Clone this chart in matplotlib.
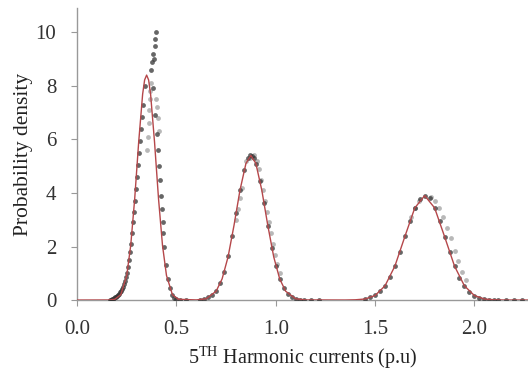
import matplotlib
matplotlib.use('Agg')

import matplotlib.pyplot as plt

plt.rcParams['font.family'] = ['Liberation Serif', 'DejaVu Serif']
plt.rcParams['mathtext.fontset'] = 'custom'
plt.rcParams['mathtext.rm'] = 'Liberation Serif'

# fitted density curve (red)
fit_x = [0.0, 0.16, 0.19, 0.22, 0.25, 0.27, 0.29, 0.31, 0.33, 0.34, 0.35, 0.36, 0.37,
         0.39, 0.41, 0.43, 0.45, 0.48, 0.51,
         0.60, 0.65, 0.70, 0.73, 0.76, 0.79, 0.82, 0.85, 0.875, 0.90, 0.93, 0.96,
         0.99, 1.02, 1.05, 1.10, 1.15,
         1.35, 1.40, 1.45, 1.50, 1.55, 1.60, 1.65, 1.70, 1.75, 1.80, 1.85, 1.90,
         1.95, 2.00, 2.05, 2.10, 2.15, 2.27]
fit_y = [0.0, 0.003, 0.03, 0.20, 0.92, 2.04, 3.78, 5.89, 7.69, 8.22, 8.4, 8.22, 7.69,
         5.89, 3.78, 2.04, 0.92, 0.20, 0.03,
         0.005, 0.05, 0.33, 0.79, 1.61, 2.79, 4.10, 5.10, 5.4, 5.10, 4.10, 2.79,
         1.61, 0.79, 0.33, 0.05, 0.005,
         0.001, 0.01, 0.04, 0.17, 0.53, 1.27, 2.37, 3.44, 3.9, 3.44, 2.37, 1.27,
         0.53, 0.17, 0.04, 0.01, 0.001, 0.0]

# measured points (dark)
dark_x = [0.165, 0.17, 0.175, 0.18, 0.185, 0.19, 0.195, 0.20, 0.205, 0.21, 0.215, 0.22,
          0.225, 0.23, 0.235, 0.24, 0.245, 0.25, 0.255, 0.26, 0.265, 0.27, 0.275, 0.28,
          0.285, 0.29, 0.295, 0.30, 0.305, 0.31, 0.315, 0.32, 0.325, 0.33, 0.34,
          0.37, 0.375, 0.38, 0.385, 0.39, 0.39, 0.395,
          0.38, 0.39, 0.40, 0.405, 0.41, 0.415, 0.42, 0.425, 0.43, 0.435, 0.44,
          0.45, 0.46, 0.47, 0.48, 0.49, 0.50, 0.52, 0.55,
          0.62, 0.64, 0.66, 0.68, 0.70, 0.72, 0.74, 0.76, 0.78, 0.80, 0.82, 0.84,
          0.86, 0.87, 0.88, 0.89, 0.90, 0.92, 0.94, 0.96, 0.98, 1.00, 1.02, 1.04,
          1.06, 1.08, 1.10, 1.12, 1.14, 1.18, 1.22,
          1.45, 1.475, 1.50, 1.525, 1.55, 1.575, 1.60, 1.625, 1.65, 1.675, 1.70,
          1.725, 1.75, 1.775, 1.80, 1.825, 1.85, 1.875, 1.90, 1.925, 1.95, 1.975,
          2.00, 2.025, 2.05, 2.075, 2.10, 2.12, 2.16, 2.20, 2.24]
dark_y = [0.01, 0.02, 0.03, 0.05, 0.07, 0.10, 0.12, 0.15, 0.19, 0.24, 0.29, 0.35,
          0.42, 0.50, 0.60, 0.70, 0.85, 1.0, 1.25, 1.5, 1.8, 2.1, 2.5, 2.9,
          3.3, 3.7, 4.15, 4.6, 5.05, 5.5, 5.95, 6.4, 6.85, 7.3, 8.0,
          8.6, 8.9, 9.2, 9.0, 9.5, 9.75, 10.0,
          7.9, 6.9, 6.2, 5.6, 5.0, 4.5, 3.9, 3.4, 2.9, 2.5, 2.0,
          1.3, 0.8, 0.45, 0.2, 0.08, 0.03, 0.01, 0.0,
          0.02, 0.05, 0.10, 0.19, 0.35, 0.62, 1.05, 1.63, 2.40, 3.25, 4.10, 4.85,
          5.30, 5.40, 5.38, 5.30, 5.08, 4.45, 3.62, 2.75, 1.93, 1.26, 0.78, 0.44,
          0.23, 0.12, 0.05, 0.02, 0.01, 0.0, 0.0,
          0.05, 0.10, 0.18, 0.32, 0.54, 0.86, 1.28, 1.81, 2.38, 2.95, 3.45,
          3.78, 3.90, 3.80, 3.45, 2.95, 2.37, 1.79, 1.27, 0.84, 0.53, 0.31,
          0.17, 0.09, 0.043, 0.02, 0.009, 0.004, 0.0, 0.0, 0.0]

# measured points (light grey)
light_x = [0.35, 0.355, 0.36, 0.36, 0.365, 0.365, 0.37, 0.395, 0.40, 0.405, 0.41,
           0.80, 0.81, 0.82, 0.83, 0.85, 0.87, 0.89, 0.905, 0.915, 0.925, 0.935,
           0.945, 0.955, 0.965, 0.975, 0.985, 0.995, 1.005, 1.02,
           1.68, 1.70, 1.72, 1.78, 1.80, 1.82, 1.84, 1.86, 1.88, 1.90, 1.92,
           1.94, 1.96]
light_y = [5.6, 6.1, 6.6, 7.1, 7.5, 7.8, 8.1, 7.5, 7.2, 6.8, 6.3,
           3.0, 3.4, 3.8, 4.2, 5.2, 5.3, 5.4, 5.2, 4.9, 4.5, 4.1,
           3.7, 3.3, 2.9, 2.5, 2.1, 1.7, 1.35, 1.0,
           3.1, 3.45, 3.7, 3.85, 3.7, 3.45, 3.1, 2.7, 2.3, 1.85, 1.45,
           1.05, 0.75]

fig = plt.figure(figsize=(5.28, 3.70), dpi=100)
ax = fig.add_axes([0.146, 0.189, 0.854, 0.789])

ax.scatter(light_x, light_y, s=12, color='#9a9a9a', alpha=0.7, linewidths=0, zorder=2)
ax.scatter(dark_x, dark_y, s=12, color='#333333', alpha=0.75, linewidths=0, zorder=3)
ax.plot(fit_x, fit_y, color='#b5474a', lw=1.0, zorder=4)

ax.set_xlim(0, 2.27)
ax.set_ylim(0, 10.9)
ax.set_xticks([0.0, 0.5, 1.0, 1.5, 2.0])
ax.set_xticklabels(['0.0', '0.5', '1.0', '1.5', '2.0'])
ax.set_yticks([0, 2, 4, 6, 8, 10])

for side in ['top', 'right']:
    ax.spines[side].set_visible(False)
for side in ['left', 'bottom']:
    ax.spines[side].set_color('#999999')
    ax.spines[side].set_linewidth(1.0)

ax.tick_params(axis='both', colors='#999999', labelcolor='#333333', labelsize=15,
               length=4, direction='out')
ax.tick_params(axis='x', pad=10)
ax.tick_params(axis='y', pad=11)

ax.set_xlabel(r'5$^{\mathrm{TH}}$ Harmonic currents (p.u)', fontsize=14.5,
              color='#222222', labelpad=4)
ax.set_ylabel('Probability density', fontsize=15.5, color='#222222', labelpad=2)

plt.savefig('out.png', dpi=100)
plt.close(fig)
